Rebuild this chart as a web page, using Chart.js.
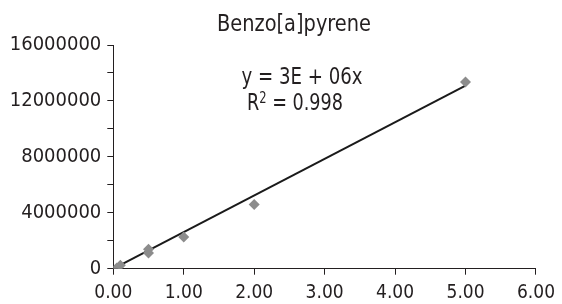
<!DOCTYPE html>
<html>
<head>
<meta charset="utf-8">
<script src="https://cdn.jsdelivr.net/npm/chart.js@4/dist/chart.umd.min.js"></script>
<style>
  html, body { margin: 0; padding: 0; background: #fff; }
  #wrap { width: 562px; height: 304px; position: relative; }
</style>
</head>
<body>
<div id="wrap"><canvas id="c" width="562" height="304"></canvas></div>
<script>
// ---- data ----
const titleText = "Benzo[a]pyrene";
const concentrations = [0.05, 0.1, 0.5, 0.5, 1, 2, 5];
const responses = [50000, 240000, 1120000, 1390000, 2260000, 4600000, 13360000];
const trendSlope = 2620000;           // slope of the fitted line through origin
const equationText = "y = 3E + 06x";
const r2Label = ["R", "2", " = 0.998"];
const xTickValues = [0, 1, 2, 3, 4, 5, 6];
const yLabelStep = 4000000;

const FONT = "'DejaVu Sans Condensed', 'Liberation Sans Narrow', sans-serif";

const points = concentrations.map((x, i) => ({ x: x, y: responses[i] }));
const xMin = Math.min(...concentrations), xMax = Math.max(...concentrations);
const trend = [xMin, xMax].map(x => ({ x: x, y: trendSlope * x }));

function drawFitted(ctx, text, cx, baseline, targetW, font) {
  ctx.font = font;
  const w = ctx.measureText(text).width;
  ctx.save();
  ctx.translate(cx, baseline);
  ctx.scale(targetW / w, 1);
  ctx.textAlign = 'center';
  ctx.fillText(text, 0, 0);
  ctx.restore();
}

const textPlugin = {
  id: 'texts',
  afterDraw(chart) {
    const ctx = chart.ctx;
    ctx.save();
    ctx.fillStyle = '#231f20';
    ctx.textBaseline = 'alphabetic';
    drawFitted(ctx, titleText, 294, 31, 154, '23px ' + FONT);
    drawFitted(ctx, equationText, 302, 83.5, 121, '23px ' + FONT);
    // R^2 line
    ctx.textAlign = 'left';
    const big = '23px ' + FONT, small = '15px ' + FONT;
    ctx.font = big; const w1 = ctx.measureText(r2Label[0]).width;
    ctx.font = small; const w2 = ctx.measureText(r2Label[1]).width;
    ctx.font = big; const w3 = ctx.measureText(r2Label[2]).width;
    const sc = 96 / (w1 + w2 + w3);
    ctx.save();
    ctx.translate(247, 110);
    ctx.scale(sc, 1);
    ctx.font = big; ctx.fillText(r2Label[0], 0, 0);
    ctx.font = small; ctx.fillText(r2Label[1], w1, -7);
    ctx.font = big; ctx.fillText(r2Label[2], w1 + w2, 0);
    ctx.restore();
    ctx.restore();
  }
};

new Chart(document.getElementById('c'), {
  type: 'scatter',
  data: {
    datasets: [
      {
        type: 'line',
        data: trend,
        borderColor: '#1a1a1a',
        borderWidth: 2,
        pointRadius: 0,
        fill: false,
        order: 2
      },
      {
        data: points,
        pointStyle: 'rectRot',
        pointRadius: 5.5,
        pointBackgroundColor: '#8c8c8c',
        pointBorderColor: '#8c8c8c',
        pointBorderWidth: 0,
        order: 1
      }
    ]
  },
  options: {
    responsive: false,
    animation: false,
    events: [],
    layout: { padding: { left: 0, right: 23, top: 45, bottom: 0 } },
    plugins: { legend: { display: false }, tooltip: { enabled: false }, title: { display: false } },
    scales: {
      x: {
        type: 'linear',
        min: 0, max: 6,
        afterBuildTicks: s => { s.ticks = xTickValues.map(v => ({ value: v })); },
        afterFit: s => { s.height = 35.3; },
        ticks: {
          callback: v => Number(v).toFixed(2),
          color: '#231f20',
          font: { family: FONT, size: 19 },
          padding: 7,
          maxRotation: 0,
          autoSkip: false
        },
        grid: { drawOnChartArea: false, drawTicks: true, tickLength: 6, tickColor: '#231f20', lineWidth: 1 },
        border: { display: true, color: '#231f20', width: 1 }
      },
      y: {
        type: 'linear',
        min: 0, max: 16000000,
        afterFit: s => { s.width = 113.3; },
        ticks: {
          stepSize: 2000000,
          callback: v => (v % yLabelStep === 0 ? String(v) : ''),
          color: '#231f20',
          font: { family: FONT, size: 20 },
          padding: 6,
          autoSkip: false
        },
        grid: { drawOnChartArea: false, drawTicks: true, tickLength: 6, tickColor: '#231f20', lineWidth: 1 },
        border: { display: true, color: '#231f20', width: 1 }
      }
    }
  },
  plugins: [textPlugin]
});
</script>
</body>
</html>
